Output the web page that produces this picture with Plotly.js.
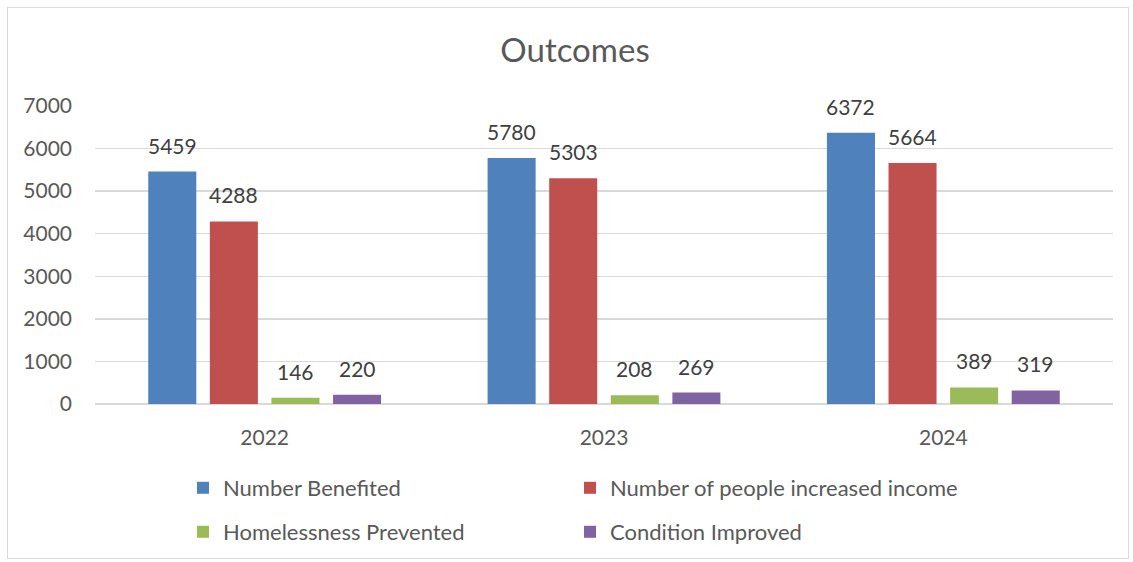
<!DOCTYPE html>
<html>
<head>
<meta charset="utf-8">
<script src="https://cdn.plot.ly/plotly-3.0.1.min.js"></script>
<style>
html,body{margin:0;padding:0;background:#fff;}
#wrap{position:relative;width:1133px;height:562px;}
#chart{width:1133px;height:562px;}
#frame{position:absolute;left:7px;top:7px;width:1122px;height:552px;border:1px solid #d9d9d9;pointer-events:none;box-sizing:border-box;}
</style>
</head>
<body>
<div id="wrap"><div id="chart"></div><div id="frame"></div></div>
<script>
const categories = ['2022', '2023', '2024'];
const seriesNames = ['Number Benefited', 'Number of people increased income', 'Homelessness Prevented', 'Condition Improved'];
const numberBenefited = [5459, 5780, 6372];
const increasedIncome = [4288, 5303, 5664];
const homelessnessPrevented = [146, 208, 389];
const conditionImproved = [220, 269, 319];
const yTicks = [0, 1000, 2000, 3000, 4000, 5000, 6000, 7000];

const colors = ['#4F81BD', '#C0504D', '#9BBB59', '#8064A2'];
const legends = ['legend', 'legend', 'legend2', 'legend2'];
const values = [numberBenefited, increasedIncome, homelessnessPrevented, conditionImproved];
const FONT = 'Lato, "Liberation Sans", sans-serif';
const BARGAP = 0.274;

const traces = values.map((v, i) => ({
  type: 'bar',
  name: seriesNames[i],
  x: categories,
  y: v,
  marker: {color: colors[i]},
  legend: legends[i],
  hoverinfo: 'x+y+name'
}));

// data labels placed above each bar via the category axis index and the group slot
const slot = (1 - BARGAP) / values.length;
const annotations = [];
values.forEach((v, i) => {
  v.forEach((val, c) => {
    annotations.push({
      x: c + (i - (values.length - 1) / 2) * slot,
      y: val,
      xref: 'x', yref: 'y',
      text: String(val),
      showarrow: false,
      xanchor: 'center', yanchor: 'bottom',
      yshift: 12,
      font: {family: FONT, size: 21, color: '#404040'}
    });
  });
});

const legendCommon = {
  orientation: 'h',
  xref: 'container', yref: 'container',
  xanchor: 'left', yanchor: 'middle',
  entrywidth: 342, entrywidthmode: 'pixels',
  font: {family: FONT, size: 22, color: '#595959'},
  itemclick: false, itemdoubleclick: false,
  bgcolor: 'rgba(0,0,0,0)'
};

const layout = {
  width: 1133, height: 562,
  margin: {l: 95, r: 20, t: 106, b: 158},
  paper_bgcolor: '#ffffff', plot_bgcolor: '#ffffff',
  font: {family: FONT, color: '#595959'},
  title: {text: 'Outcomes', font: {family: FONT, size: 33, color: '#595959'},
          xref: 'container', x: 575/1133, xanchor: 'center', yref: 'container', y: 1 - 50/562, yanchor: 'middle'},
  barmode: 'group',
  bargap: BARGAP,
  bargroupgap: 0.22,
  showlegend: true,
  annotations: annotations,
  xaxis: {
    type: 'category',
    tickfont: {family: FONT, size: 21, color: '#595959'},
    showgrid: false, zeroline: false,
    showline: false, ticks: '',
    ticklabelstandoff: 19
  },
  yaxis: {
    range: [0, 7000],
    tickvals: yTicks,
    ticktext: yTicks.map(String),
    tickfont: {family: FONT, size: 21, color: '#595959'},
    showgrid: true, gridcolor: '#d9d9d9', gridwidth: 1.5,
    zeroline: true, zerolinecolor: '#d9d9d9', zerolinewidth: 1.5,
    showline: false, ticks: '',
    ticklabelstandoff: 22,
    fixedrange: true
  },
  legend: Object.assign({}, legendCommon, {x: 183/1133, y: 1 - 488/562}),
  legend2: Object.assign({}, legendCommon, {x: 183/1133, y: 1 - 532/562})
};

Plotly.newPlot('chart', traces, layout, {displayModeBar: false, staticPlot: true});
</script>
</body>
</html>
